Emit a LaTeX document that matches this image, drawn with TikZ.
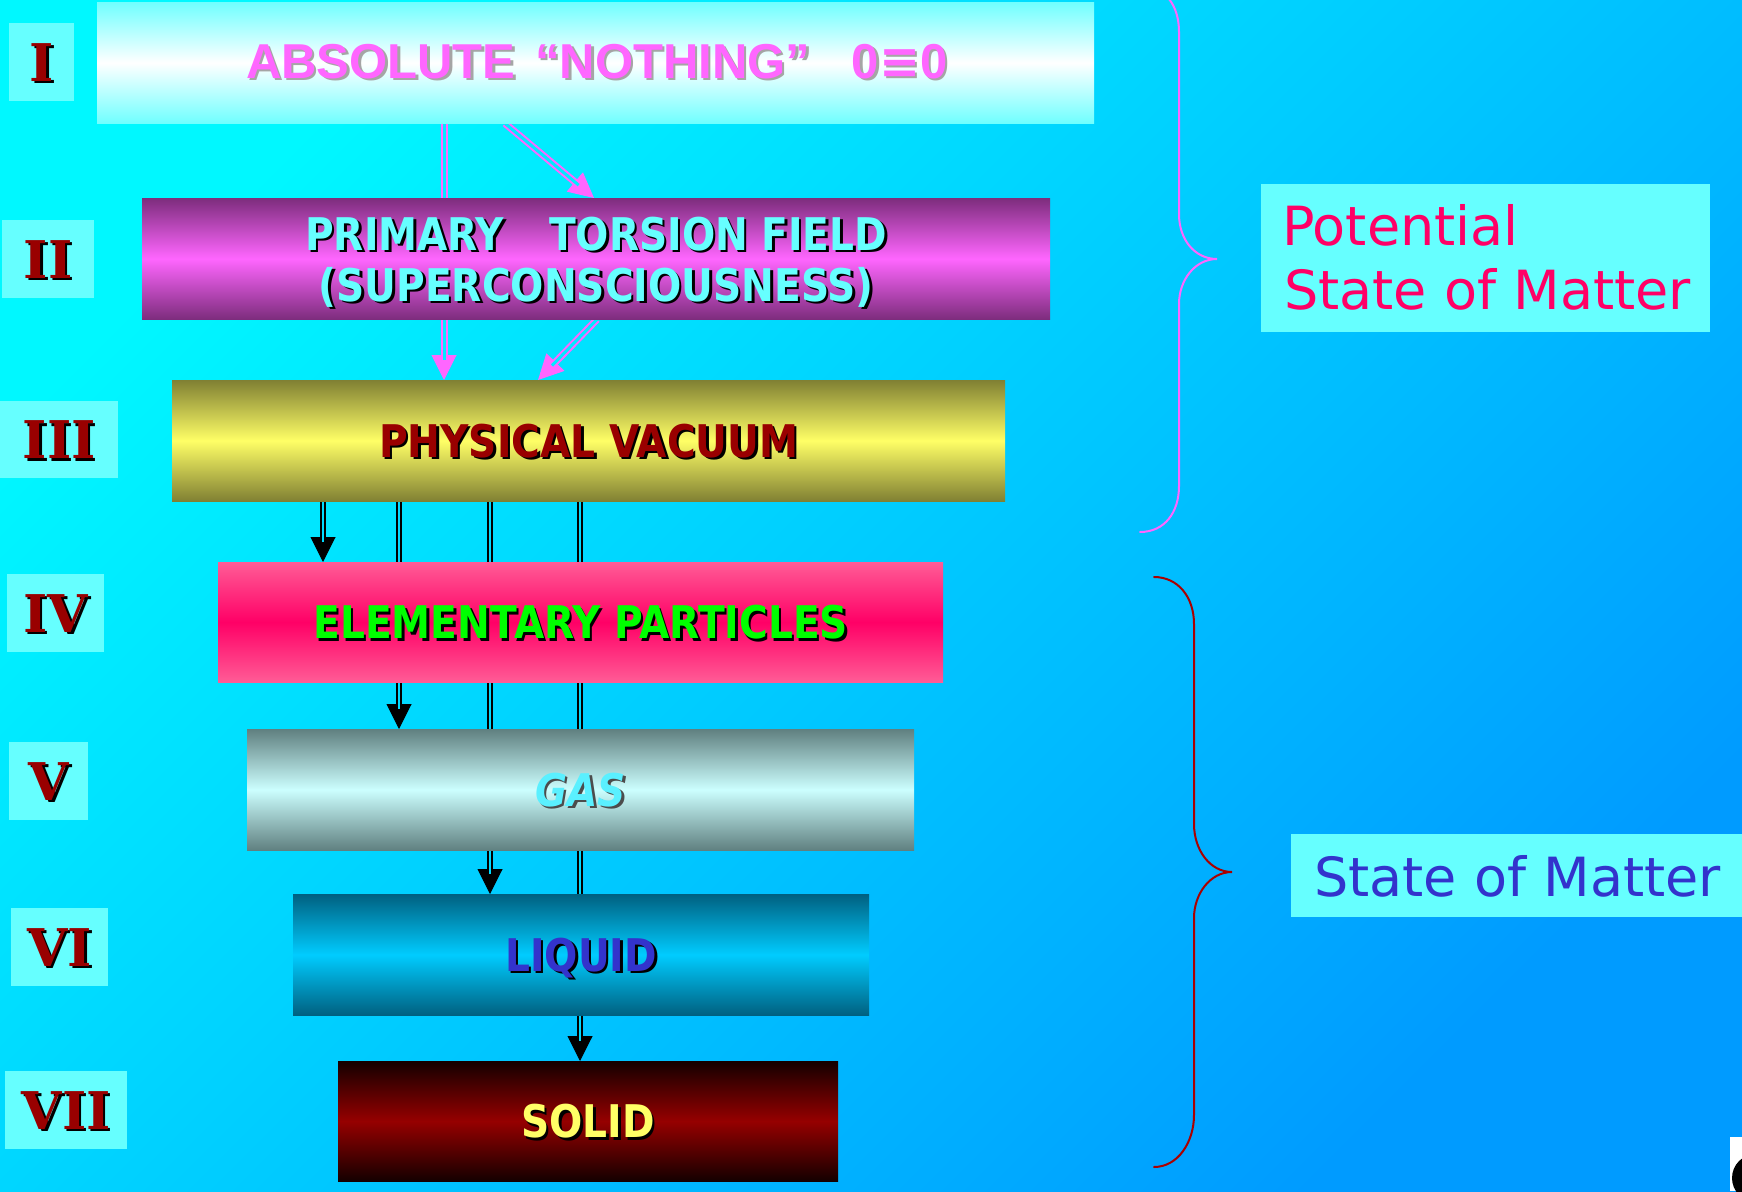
\documentclass[tikz,border=0pt]{standalone}
\usepackage{fontspec}
\setmainfont{DejaVu Sans}
\newfontfamily\comicf{DejaVu Sans}[FakeStretch=0.87]
\newfontfamily\plainf{DejaVu Sans}
\newfontfamily\arialf{Liberation Sans}
\newfontfamily\numf{DejaVu Serif}
\usetikzlibrary{arrows.meta,calc}

\definecolor{bgA}{RGB}{0,248,255}
\definecolor{bgB}{RGB}{0,155,255}
\definecolor{bgP}{RGB}{0,234,255}
\definecolor{bgK}{RGB}{0,218,255}
\definecolor{lblc}{RGB}{102,255,255}
\definecolor{pinkc}{RGB}{255,102,255}
\definecolor{cyanT}{RGB}{102,255,255}
\definecolor{dred}{RGB}{153,0,0}
\definecolor{braceR}{RGB}{170,0,0}
\definecolor{greenT}{RGB}{0,255,0}
\definecolor{gasT}{RGB}{90,240,255}
\definecolor{blueT}{RGB}{51,51,204}
\definecolor{yelT}{RGB}{255,255,102}
\definecolor{potc}{RGB}{255,0,102}
\definecolor{shgray}{RGB}{165,165,165}

\definecolor{b1e}{RGB}{112,255,255}
\definecolor{b2e}{RGB}{125,45,125}
\definecolor{b2m}{RGB}{255,102,255}
\definecolor{b3e}{RGB}{128,128,51}
\definecolor{b3m}{RGB}{255,255,102}
\definecolor{b4e}{RGB}{255,92,150}
\definecolor{b4m}{RGB}{255,0,102}
\definecolor{b5e}{RGB}{96,128,128}
\definecolor{b5m}{RGB}{204,255,255}
\definecolor{b6e}{RGB}{0,96,128}
\definecolor{b6m}{RGB}{0,204,255}
\definecolor{b7e}{RGB}{20,0,0}
\definecolor{b7m}{RGB}{150,0,0}

\newcommand\stxt[5]{%
  \node[#3, text=#4, xshift=2.5pt, yshift=-2.5pt] (#1s) at (#2) {#5};
  \node[#3] (#1) at (#2) {#5};}

\tikzset{
  lbl/.style={fill=lblc, inner sep=0pt, anchor=north west},
  bx/.style={inner sep=0pt, anchor=north west},
  numtxt/.style={font=\numf\bfseries\fontsize{52}{60}\selectfont, text=dred, text height=38pt, text depth=0pt, inner sep=0pt},
  ctxt/.style={font=\comicf\bfseries\fontsize{45}{50}\selectfont, text height=33pt, text depth=0pt, inner sep=0pt},
  atxt/.style={font=\arialf\bfseries\fontsize{49}{55}\selectfont, text=pinkc, text height=35pt, text depth=0pt, inner sep=0pt},
  ptxt/.style={font=\plainf\fontsize{54}{62}\selectfont, inner sep=0pt, anchor=base west},
  ptip/.style={draw=pinkc, line width=1pt, -{Triangle[length=25pt,width=25pt]}},
  pdbl/.style={draw=pinkc, line width=2pt, double=bgP, double distance=3pt, shorten >=20pt},
  ktip/.style={draw=black, line width=1pt, -{Triangle[length=25pt,width=25pt]}},
  kdbl/.style={draw=black, line width=2.2pt, double=bgK, double distance=2pt, shorten >=20pt},
  brace/.style={line width=2pt, line cap=round}
}

\begin{document}
\begin{tikzpicture}[x=1pt,y=-1pt]
\useasboundingbox (0,0) rectangle (1742,1191);
\shade[top color=bgA, bottom color=bgB, shading angle=45] (0,0) rectangle (1742,1191);

% main boxes (positions)
\path node[bx, minimum width=997pt, minimum height=121pt] (bI) at (97,2) {};
\path node[bx, minimum width=908pt, minimum height=121pt] (bII) at (142,198) {};
\path node[bx, minimum width=833pt, minimum height=121pt] (bIII) at (172,380) {};
\path node[bx, minimum width=725pt, minimum height=120pt] (bIV) at (218,562) {};
\path node[bx, minimum width=667pt, minimum height=121pt] (bV) at (247,729) {};
\path node[bx, minimum width=576pt, minimum height=121pt] (bVI) at (293,894) {};
\path node[bx, minimum width=500pt, minimum height=120pt] (bVII) at (338,1061) {};

% connectors (drawn below the boxes)
\draw[ptip] (444,0 |- bI.south) -- (444,0 |- bIII.north);
\draw[pdbl] (444,0 |- bI.south) -- (444,0 |- bIII.north);
\draw[ptip] (505,0 |- bI.south) -- (594,0 |- bII.north);
\draw[pdbl] (505,0 |- bI.south) -- (594,0 |- bII.north);
\draw[ptip] (597,0 |- bII.south) -- (538,0 |- bIII.north);
\draw[pdbl] (597,0 |- bII.south) -- (538,0 |- bIII.north);

\draw[ktip] (323,0 |- bIII.south) -- (323,0 |- bIV.north);
\draw[kdbl] (323,0 |- bIII.south) -- (323,0 |- bIV.north);
\draw[ktip] (399,0 |- bIII.south) -- (399,0 |- bV.north);
\draw[kdbl] (399,0 |- bIII.south) -- (399,0 |- bV.north);
\draw[ktip] (490,0 |- bIII.south) -- (490,0 |- bVI.north);
\draw[kdbl] (490,0 |- bIII.south) -- (490,0 |- bVI.north);
\draw[ktip] (580,0 |- bIII.south) -- (580,0 |- bVII.north);
\draw[kdbl] (580,0 |- bIII.south) -- (580,0 |- bVII.north);

% shaded boxes on top of the connectors
\node[bx, minimum width=997pt, minimum height=121pt, top color=b1e, bottom color=b1e, middle color=white] (sI) at (97,2) {};
\node[bx, minimum width=908pt, minimum height=121pt, top color=b2e, bottom color=b2e, middle color=b2m] (sII) at (142,198) {};
\node[bx, minimum width=833pt, minimum height=121pt, top color=b3e, bottom color=b3e, middle color=b3m] (sIII) at (172,380) {};
\node[bx, minimum width=725pt, minimum height=120pt, top color=b4e, bottom color=b4e, middle color=b4m] (sIV) at (218,562) {};
\node[bx, minimum width=667pt, minimum height=121pt, top color=b5e, bottom color=b5e, middle color=b5m] (sV) at (247,729) {};
\node[bx, minimum width=576pt, minimum height=121pt, top color=b6e, bottom color=b6e, middle color=b6m] (sVI) at (293,894) {};
\node[bx, minimum width=500pt, minimum height=120pt, top color=b7e, bottom color=b7e, middle color=b7m] (sVII) at (338,1061) {};

% box texts
\stxt{tI}{$(bI.center)+(1,-2)$}{atxt}{shgray}{ABSOLUTE\hspace{0.4em}“NOTHING”\hspace{0.85em}0{\plainf\bfseries ≡}0}
\stxt{tIIa}{$(bII.center)+(0,-25)$}{ctxt, text=cyanT}{black}{PRIMARY\hspace{1em}TORSION FIELD}
\stxt{tIIb}{$(bII.center)+(0,26)$}{ctxt, text=cyanT}{black}{(SUPERCONSCIOUSNESS)}
\stxt{tIII}{bIII.center}{ctxt, text=dred}{black}{PHYSICAL VACUUM}
\stxt{tIV}{bIV.center}{ctxt, text=greenT}{black}{ELEMENTARY PARTICLES}
\stxt{tV}{bV.center}{ctxt, text=gasT, font=\comicf\bfseries\itshape\fontsize{45}{50}\selectfont}{black!70}{GAS}
\stxt{tVI}{bVI.center}{ctxt, text=blueT}{black}{LIQUID}
\stxt{tVII}{bVII.center}{ctxt, text=yelT}{black}{SOLID}

% roman labels
\node[lbl, minimum width=65pt, minimum height=78pt] (lI) at (9,23) {};
\node[lbl, minimum width=92pt, minimum height=78pt] (lII) at (2,220) {};
\node[lbl, minimum width=118pt, minimum height=77pt] (lIII) at (0,401) {};
\node[lbl, minimum width=97pt, minimum height=78pt] (lIV) at (7,574) {};
\node[lbl, minimum width=79pt, minimum height=78pt] (lV) at (9,742) {};
\node[lbl, minimum width=97pt, minimum height=78pt] (lVI) at (11,908) {};
\node[lbl, minimum width=122pt, minimum height=78pt] (lVII) at (5,1071) {};
\stxt{nI}{lI.center}{numtxt}{black}{I}
\stxt{nII}{lII.center}{numtxt}{black}{II}
\stxt{nIII}{lIII.center}{numtxt}{black}{III}
\stxt{nIV}{lIV.center}{numtxt}{black}{IV}
\stxt{nV}{lV.center}{numtxt}{black}{V}
\stxt{nVI}{lVI.center}{numtxt}{black}{VI}
\stxt{nVII}{lVII.center}{numtxt}{black}{VII}

% braces
\begin{scope}
\clip (0,0) rectangle (1742,1191);
\draw[brace, pinkc] (1140,-14) .. controls (1165,-14) and (1179,5) .. (1179,32)
  -- (1179,214) .. controls (1179,240) and (1195,259) .. (1217,259)
  .. controls (1195,259) and (1179,280) .. (1179,304)
  -- (1179,486) .. controls (1179,512) and (1165,532) .. (1140,532);
\end{scope}
\draw[brace, braceR] (1154,577) .. controls (1178,577) and (1194,597) .. (1194,624)
  -- (1194,824) .. controls (1194,850) and (1210,872) .. (1232,872)
  .. controls (1210,872) and (1194,894) .. (1194,918)
  -- (1194,1115) .. controls (1194,1142) and (1178,1167) .. (1154,1167);

% right-hand captions
\node[lbl, minimum width=449pt, minimum height=148pt] (potbox) at (1261,184) {};
\node[ptxt, text=potc] (pot1) at (1282,245) {Potential};
\node[ptxt, text=potc] (pot2) at (1284,309) {State of Matter};
\node[lbl, minimum width=451pt, minimum height=83pt] (stbox) at (1291,834) {};
\node[ptxt, text=blueT] (st1) at (1314,896) {State of Matter};

% corner artifact
\fill[white] (1730,1137) rectangle (1742,1191);
\begin{scope}
\clip (1730,1137) rectangle (1742,1191);
\fill[black] (1756,1178) circle (24);
\end{scope}
\end{tikzpicture}
\end{document}
